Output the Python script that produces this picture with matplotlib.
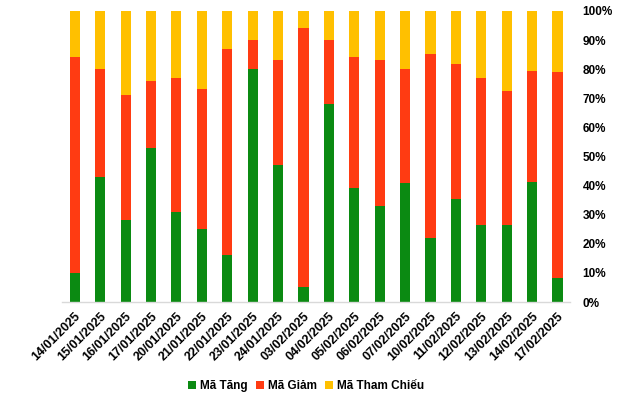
import numpy as np
import matplotlib.pyplot as plt

plt.rcParams["font.family"] = ["Liberation Sans", "DejaVu Sans"]

dates = ["14/01/2025", "15/01/2025", "16/01/2025", "17/01/2025", "20/01/2025",
         "21/01/2025", "22/01/2025", "23/01/2025", "24/01/2025", "03/02/2025",
         "04/02/2025", "05/02/2025", "06/02/2025", "07/02/2025", "10/02/2025",
         "11/02/2025", "12/02/2025", "13/02/2025", "14/02/2025", "17/02/2025"]

# shares in percent
tang = [10.0, 43.0, 28.3, 53.0, 31.0, 25.1, 16.2, 80.0, 47.0, 5.2,
        68.0, 39.2, 33.1, 40.9, 22.0, 35.4, 26.5, 26.5, 41.2, 8.4]
giam = [74.2, 37.0, 42.8, 23.0, 46.0, 48.1, 70.8, 10.0, 36.2, 89.0,
        22.0, 45.0, 50.1, 39.1, 63.2, 46.4, 50.5, 46.0, 38.2, 70.6]
tham_chieu = [15.8, 20.0, 28.9, 24.0, 23.0, 26.8, 13.0, 10.0, 16.8, 5.8,
              10.0, 15.8, 16.8, 20.0, 14.8, 18.2, 23.0, 27.5, 20.6, 21.0]

green = "#0B8A12"
red = "#FF3B12"
yellow = "#FFC000"

x = np.arange(len(dates))
t = np.array(tang) / 100
g = np.array(giam) / 100
r = np.array(tham_chieu) / 100

fig = plt.figure(figsize=(6.4, 3.95), dpi=100)
ax = fig.add_axes([0.097, 0.2354, 0.794, 0.737])

w = 0.4
ax.bar(x, t, w, color=green, label="Mã Tăng")
ax.bar(x, g, w, bottom=t, color=red, label="Mã Giảm")
ax.bar(x, r, w, bottom=t + g, color=yellow, label="Mã Tham Chiếu")

ax.set_xlim(-0.5, len(dates) - 0.5)
ax.set_ylim(0, 1)
ax.yaxis.tick_right()
ax.set_yticks(np.arange(0, 1.01, 0.1))
ax.set_yticklabels([f"{int(round(v * 100))}%" for v in np.arange(0, 1.01, 0.1)],
                   fontsize=8.5, fontweight="bold")
ax.tick_params(axis="y", length=0, pad=9)
ax.set_xticks(x)
ax.set_xticklabels(dates, rotation=45, ha="right", rotation_mode="anchor",
                   fontsize=9, fontweight="bold")
ax.tick_params(axis="x", length=0, pad=6)

for s in ["top", "left", "right"]:
    ax.spines[s].set_visible(False)
ax.spines["bottom"].set_color("#D9D9D9")
ax.spines["bottom"].set_linewidth(1)

fig.legend(loc="lower center", bbox_to_anchor=(0.478, -0.02), ncol=3, frameon=False,
           prop={"size": 8.5, "weight": "bold"}, handlelength=0.7, handleheight=0.7,
           handletextpad=0.3, columnspacing=0.7)

fig.savefig("out.png", dpi=100)
